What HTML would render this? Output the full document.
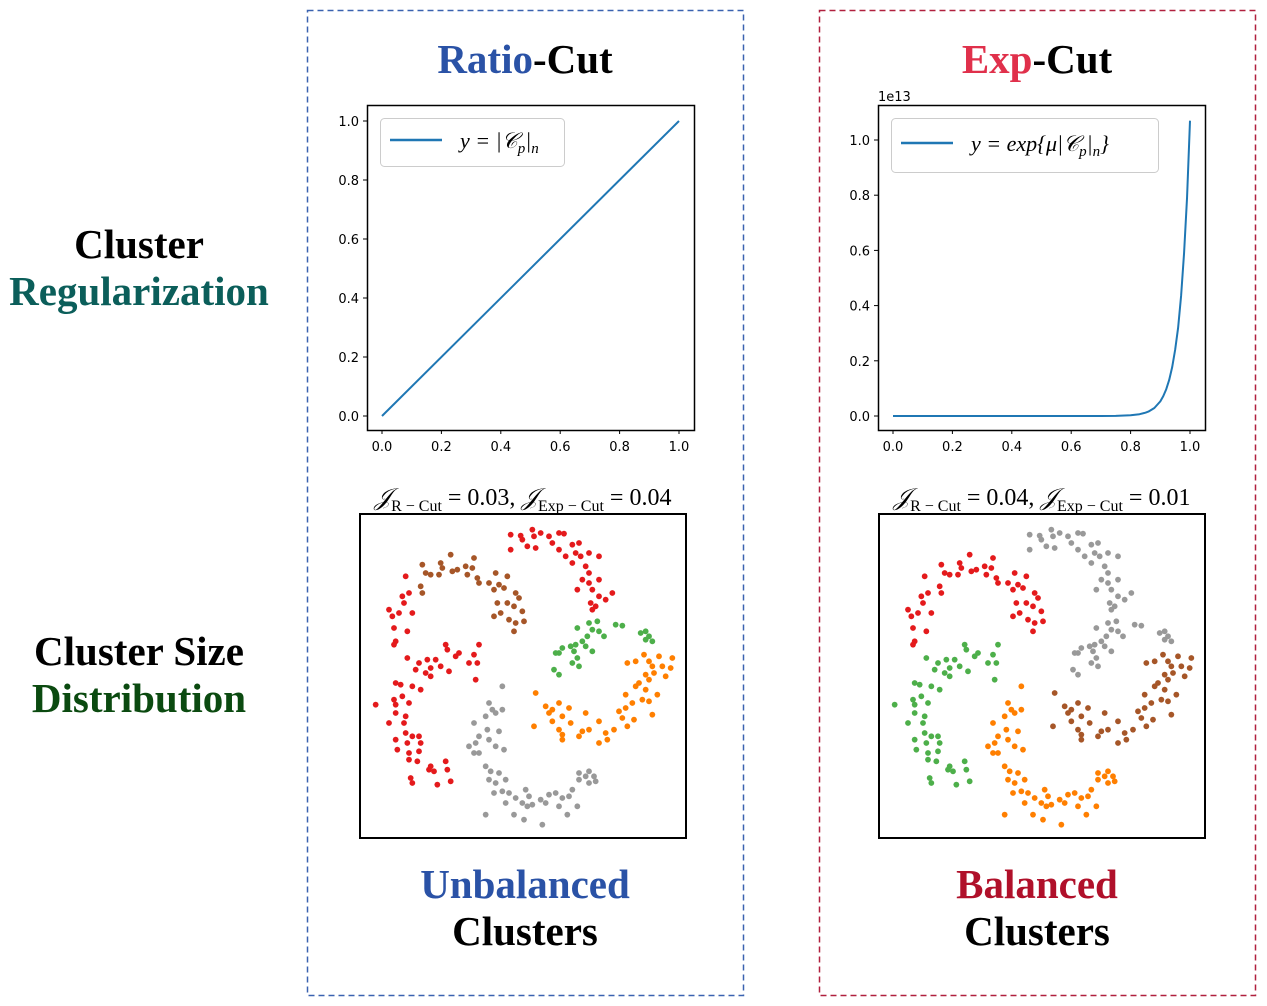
<!DOCTYPE html>
<html><head><meta charset="utf-8"><style>
html,body{margin:0;padding:0;background:#fff;}
svg{display:block;}
.ser{font-family:"Liberation Serif",serif;}
.tick{font-family:"DejaVu Sans",sans-serif;font-size:13px;fill:#000;}
</style></head><body>
<svg id="fig" width="1267" height="1006" viewBox="0 0 1267 1006" xmlns="http://www.w3.org/2000/svg">
<rect x="307.5" y="10.5" width="436" height="985" fill="none" stroke="#3a62b0" stroke-width="1.5" stroke-dasharray="6,4"/>
<rect x="819.5" y="10.5" width="436" height="985" fill="none" stroke="#b0203e" stroke-width="1.5" stroke-dasharray="6,4"/>
<g class="ser" font-weight="bold" font-size="41" text-anchor="middle">
<text x="139" y="258">Cluster</text>
<text x="139" y="305" fill="#0b5e5a">Regularization</text>
<text x="139" y="665">Cluster Size</text>
<text x="139" y="712" fill="#0b4a10">Distribution</text>
<text x="525" y="73"><tspan fill="#2a52a6">Ratio</tspan>-Cut</text>
<text x="1037" y="73"><tspan fill="#e0304b">Exp</tspan>-Cut</text>
<text x="525" y="898" fill="#2a52a6">Unbalanced</text>
<text x="525" y="945">Clusters</text>
<text x="1037" y="898" fill="#b0102a">Balanced</text>
<text x="1037" y="945">Clusters</text>
</g>
<g class="ser" font-size="24" text-anchor="middle">
<text x="523" y="505"><tspan font-style="italic">𝒥</tspan><tspan font-size="16" dy="6">R − Cut</tspan><tspan dy="-6"> = 0.03, </tspan><tspan font-style="italic">𝒥</tspan><tspan font-size="16" dy="6">Exp − Cut</tspan><tspan dy="-6"> = 0.04</tspan></text>
<text x="1042" y="505"><tspan font-style="italic">𝒥</tspan><tspan font-size="16" dy="6">R − Cut</tspan><tspan dy="-6"> = 0.04, </tspan><tspan font-style="italic">𝒥</tspan><tspan font-size="16" dy="6">Exp − Cut</tspan><tspan dy="-6"> = 0.01</tspan></text>
</g>
<g id="charts"></g>
</svg>
<script>
const ticks = [0, 0.2, 0.4, 0.6, 0.8, 1.0];
const tickLabels = ["0.0","0.2","0.4","0.6","0.8","1.0"];
const linX = [0, 1];
const linY = [0, 1];
const expX = [0,0.1,0.2,0.3,0.4,0.5,0.6,0.7,0.75,0.8,0.83,0.85,0.86,0.88,0.9,0.91,0.92,0.93,0.94,0.95,0.96,0.97,0.98,0.99,1.0];
const expY = [0,0,0,0,0,0,0,0.0001,0.0005,0.0026,0.0065,0.012,0.016,0.029,0.053,0.072,0.097,0.131,0.177,0.24,0.32,0.435,0.59,0.79,1.07];
const segTopRight = [[455,65],[485,68],[490,80],[505,100],[520,50],[525,70],[545,60],[530,105],[570,70],[580,90],[600,60],[615,62],[600,110],[620,130],[640,95],[660,90],[650,120],[665,130],[640,150],[690,120],[720,130],[680,160],[690,180],[670,200],[690,210],[720,200],[700,230],[655,230],[720,250],[760,240],[695,270],[700,290],[710,280],[740,260],[455,110]];
const segTopLeft = [[190,155],[200,180],[215,185],[245,150],[240,185],[250,165],[275,125],[280,175],[295,170],[320,160],[325,185],[345,135],[340,165],[355,195],[360,210],[390,210],[410,180],[405,230],[420,215],[435,225],[445,190],[470,240],[480,255],[415,270],[445,270],[465,280],[490,295],[405,310],[425,300],[450,320],[470,330],[495,325],[465,355],[185,220],[190,240]];
const segUpperLeft = [[140,190],[150,240],[130,250],[135,270],[90,290],[100,310],[120,300],[160,300],[105,345],[145,355],[110,385],[105,395]];
const segLowerLeft = [[260,395],[265,410],[300,420],[290,430],[360,395],[345,425],[330,450],[355,450],[145,435],[180,450],[205,440],[230,440],[215,465],[245,460],[200,480],[170,470],[215,490],[270,475],[350,500],[110,510],[125,515],[160,520],[185,530],[130,550],[105,560],[110,575],[150,570],[50,575],[110,600],[140,610],[90,630],[135,630],[140,660],[160,670],[180,670],[110,680],[145,690],[185,690],[115,710],[150,720],[180,715],[150,740],[175,745],[215,760],[225,775],[260,745],[265,770],[155,795],[160,810],[235,815],[275,805],[210,770]];
const segMiddle = [[655,345],[690,330],[715,325],[700,350],[720,355],[685,370],[670,385],[650,395],[635,400],[610,405],[600,420],[590,420],[645,415],[680,400],[700,415],[655,435],[640,450],[660,460],[585,470],[600,485],[735,370],[770,335],[790,338],[845,360],[860,355],[860,380],[880,385],[870,370]];
const segRight = [[805,450],[830,445],[855,425],[870,445],[880,460],[885,480],[900,430],[940,435],[910,460],[935,465],[920,490],[860,485],[870,500],[840,510],[830,520],[860,530],[850,560],[870,565],[895,545],[800,545],[820,570],[800,585],[780,595],[790,615],[805,640],[825,620],[880,605],[720,625],[740,660],[745,680],[765,650],[720,690],[690,650],[670,655],[660,670],[610,665],[600,650],[610,610],[580,590],[570,600],[560,580],[580,625],[600,570],[630,585],[635,630],[680,600],[525,640],[530,540],[610,680]];
const segBottom = [[430,520],[390,570],[400,590],[410,600],[430,590],[380,610],[345,630],[385,650],[420,655],[360,670],[390,680],[350,690],[330,700],[345,720],[360,720],[410,700],[435,710],[380,760],[395,775],[420,780],[390,800],[410,810],[440,800],[405,840],[430,835],[450,840],[470,855],[500,830],[510,850],[490,870],[520,875],[545,860],[560,870],[570,845],[590,840],[610,855],[630,850],[640,830],[600,880],[655,880],[660,800],[680,790],[690,775],[705,790],[710,805],[690,810],[660,780],[380,905],[465,905],[495,920],[550,935],[625,905],[440,870],[505,880]];
const segments = [segTopRight, segTopLeft, segUpperLeft, segLowerLeft, segMiddle, segRight, segBottom];
const leftColors = ["#e41a1c","#a65628","#e41a1c","#e41a1c","#4daf4a","#ff7f00","#999999"];
const rightColors = ["#999999","#e41a1c","#e41a1c","#4daf4a","#999999","#a65628","#ff7f00"];

const NS = "http://www.w3.org/2000/svg";
const root = document.getElementById('charts');
function mk(tag, attrs, parent){const e=document.createElementNS(NS,tag);for(const k in attrs)e.setAttribute(k,attrs[k]);(parent||root).appendChild(e);return e;}

function lineChart(x0, name, xs, ys, yTop, legendW, legendText, offsetLabel){
  const g = mk('g',{});
  
  
  const sx = v => x0 + 15 + v*297;
  const sy = v => 416 - v*yTop;
  ticks.forEach((t,i)=>{
    const xl = mk('line',{x1:sx(t),x2:sx(t),y1:430,y2:434,stroke:'#000'},g);
    
    
    const xt = mk('text',{x:sx(t),y:451,'text-anchor':'middle',class:'tick'},g);
    xt.textContent = tickLabels[i];
    
    
    const yl = mk('line',{x1:x0-4,x2:x0,y1:sy(t),y2:sy(t),stroke:'#000'},g);
    
    
    const yt = mk('text',{x:x0-8,y:sy(t)+5,'text-anchor':'end',class:'tick'},g);
    yt.textContent = tickLabels[i];
    
    
  });
  if(offsetLabel){
    const o = mk('text',{x:x0,y:101,class:'tick'},g);
    o.textContent = offsetLabel;
    
    
  }
  const pts = xs.map((v,i)=>sx(v)+','+sy(ys[i])).join(' ');
  const pl = mk('polyline',{points:pts,fill:'none',stroke:'#1f77b4','stroke-width':2,'stroke-linejoin':'round'},g);
  
  
  const box = mk('rect',{x:x0+0.5,y:105.5,width:327,height:325,fill:'none',stroke:'#000','stroke-width':1.5},g);
  
  
  const lg = mk('g',{},g);
  
  
  mk('rect',{x:x0+13.5,y:118.5,width:legendW,height:legendText.h,rx:4,fill:'#fff',stroke:'#ccc'},lg);
  mk('line',{x1:x0+23,x2:x0+75,y1:118+legendText.h/2-2,y2:118+legendText.h/2-2,stroke:'#1f77b4','stroke-width':2.5},lg);
  const lt = mk('text',{x:x0+93,y:118+legendText.h/2+6,class:'ser','font-size':22,'font-style':'italic'},lg);
  lt.innerHTML = legendText.html;
  
  
}
lineChart(367,'ratio-cut-line-chart',linX,linY,295,184,{h:48,html:'y = |𝒞<tspan font-size="15" dy="5">p</tspan><tspan dy="-5">|</tspan><tspan font-size="15" dy="5">n</tspan>'},null);
lineChart(878,'exp-cut-line-chart',expX,expY,276,267,{h:54,html:'y = exp{μ|𝒞<tspan font-size="15" dy="5">p</tspan><tspan dy="-5">|</tspan><tspan font-size="15" dy="5">n</tspan><tspan dy="-5">}</tspan>'},'1e13');

function scatter(x0, name, colors){
  const g = mk('g',{});
  
  
  const sx = v => x0 + v/3;
  const sy = v => 513 + v/3;
  segments.forEach((seg,si)=>{
    seg.forEach(p=>{
      const c = mk('circle',{cx:sx(p[0]),cy:sy(p[1]),r:2.9,fill:colors[si]},g);
      
      
    });
  });
  const box = mk('rect',{x:x0+1,y:514,width:326,height:324,fill:'none',stroke:'#000','stroke-width':2},g);
  
  
}
scatter(359,'unbalanced-scatter',leftColors);
scatter(878,'balanced-scatter',rightColors);
</script>
</body></html>
